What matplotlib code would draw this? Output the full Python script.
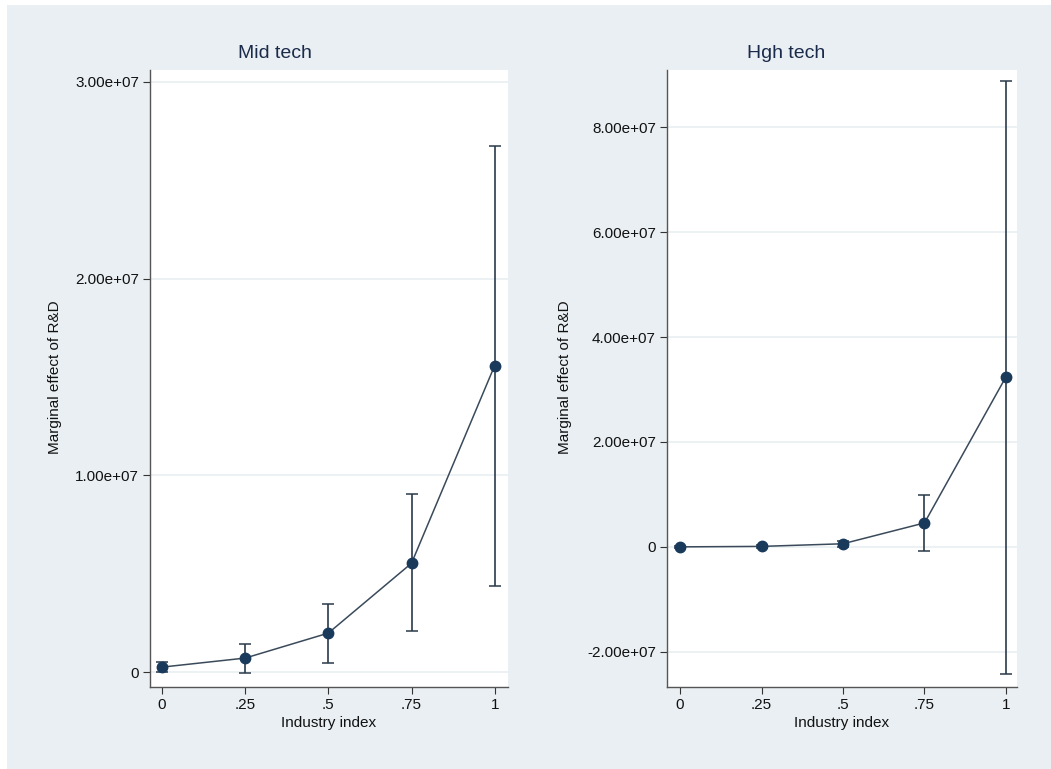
import matplotlib.pyplot as plt
from matplotlib.patches import Rectangle

x = [0, 0.25, 0.5, 0.75, 1]
xlabels = ['0', '.25', '.5', '.75', '1']

mid_est = [2.5e5, 7.1e5, 1.98e6, 5.53e6, 1.558e7]
mid_lo = [0.0, -0.05e6, 0.46e6, 2.08e6, 4.37e6]
mid_hi = [5.0e5, 1.42e6, 3.45e6, 9.04e6, 2.675e7]

high_est = [1.0e4, 1.0e5, 6.0e5, 4.57e6, 3.24e7]
high_lo = [-2.0e5, -2.0e5, 0.0, -0.76e6, -2.42e7]
high_hi = [2.0e5, 4.0e5, 1.2e6, 9.9e6, 8.88e7]

mid_ticks = [0, 1e7, 2e7, 3e7]
mid_ticklabels = ['0', '1.00e+07', '2.00e+07', '3.00e+07']
high_ticks = [-2e7, 0, 2e7, 4e7, 6e7, 8e7]
high_ticklabels = ['-2.00e+07', '0', '2.00e+07', '4.00e+07', '6.00e+07', '8.00e+07']

bg = '#e9eff2'
navy = '#1a3a5c'
dark = '#333333'

plt.rcParams['font.family'] = ['Liberation Sans', 'DejaVu Sans']

fig = plt.figure(figsize=(10.51, 7.69), dpi=100, facecolor='white')
fig.patches.append(Rectangle((7 / 1051, 0), 1, 1 - 5 / 769, transform=fig.transFigure,
                             facecolor=bg, edgecolor='none', zorder=-10))

W, H = 1051, 769
# title centre x, y-label x in pixels
panels = [
    ('Mid tech', mid_est, mid_lo, mid_hi, mid_ticks, mid_ticklabels,
     (150, 70, 508, 687), (-0.036, 1.04), (-7.6e5, 3.06e7), 55, 275),
    ('Hgh tech', high_est, high_lo, high_hi, high_ticks, high_ticklabels,
     (667, 70, 1017, 687), (-0.04, 1.034), (-2.67e7, 9.09e7), 565, 786),
]

for title, est, lo, hi, ticks, tlabels, box, xlim, ylim, ylab_x, title_x in panels:
    l, t, r, b = box
    ax = fig.add_axes([l / W, 1 - b / H, (r - l) / W, (b - t) / H])
    ax.set_facecolor('white')
    ax.set_xlim(*xlim)
    ax.set_ylim(*ylim)
    for yv in ticks:
        ax.axhline(yv, color=bg, lw=1.2, zorder=0)
    ax.plot(x, est, color='#3a4a5a', lw=1.1, zorder=2)
    yerr = [[e - a for e, a in zip(est, lo)], [c - e for e, c in zip(est, hi)]]
    ax.errorbar(x, est, yerr=yerr, fmt='o', color=navy, ecolor='#2a3a4a',
                elinewidth=1.2, capsize=4, capthick=1.1, markersize=7.5, zorder=3)
    ax.set_xticks(x)
    ax.set_xticklabels(xlabels)
    ax.set_yticks(ticks)
    ax.set_yticklabels(tlabels)
    ax.tick_params(direction='out', length=5, width=0.8, color=dark,
                   labelsize=11, labelcolor='#111111', pad=3)
    for s in ['top', 'right']:
        ax.spines[s].set_visible(False)
    for s in ['left', 'bottom']:
        ax.spines[s].set_color('#555555')
        ax.spines[s].set_linewidth(1.0)
    ax.set_xlabel('Industry index', fontsize=11, color='#111111', labelpad=3)
    fig.text(title_x / W, 1 - 53 / H, title, ha='center', va='center',
             fontsize=14, color='#1a2a4a')
    fig.text(ylab_x / W, 1 - 377 / H, 'Marginal effect of R&D',
             rotation=90, ha='center', va='center', fontsize=11, color='#111111')

fig.savefig('out.png', dpi=100, facecolor='white')
